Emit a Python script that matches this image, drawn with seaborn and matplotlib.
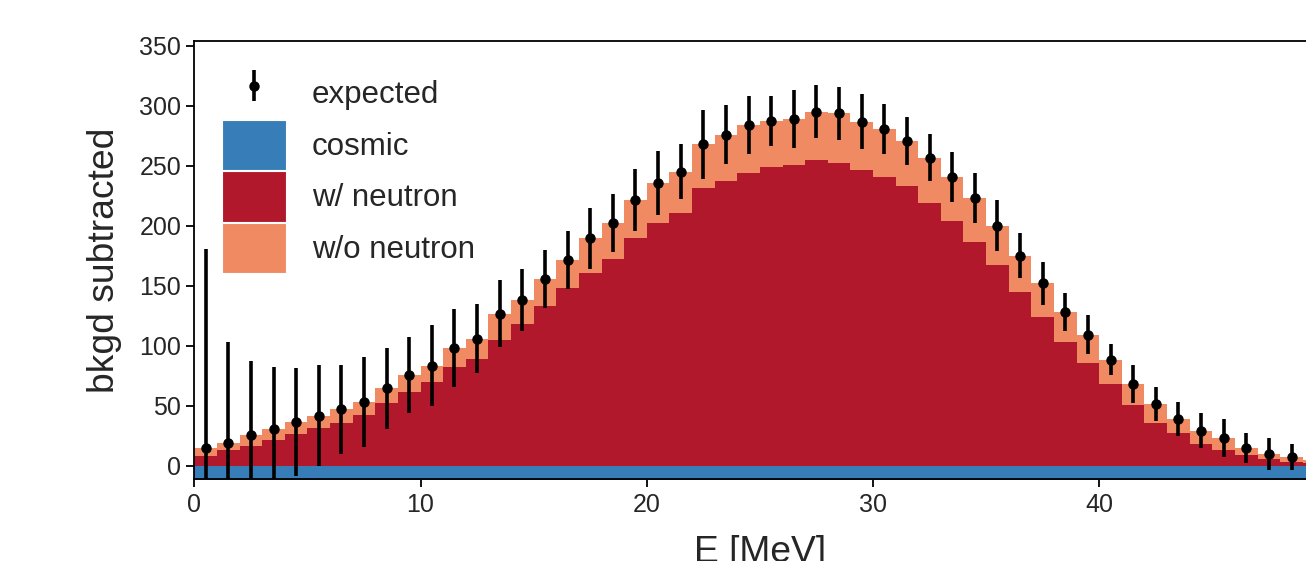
import numpy as np
import pandas as pd
import matplotlib
matplotlib.use("Agg")
import matplotlib.pyplot as plt
import seaborn as sns
from matplotlib.patches import Patch

# Energy bins [MeV], 1 MeV wide
bin_edges = list(range(0, 51))
bin_centers = [e + 0.5 for e in bin_edges[:-1]]

# Stacked components (events per bin)
with_neutron = [8.3, 13.1, 16.7, 21.4, 26.2, 31.2, 35.9, 42.3, 52.0, 61.2,
                69.5, 82.3, 88.7, 104.8, 117.9, 133.4, 148.0, 161.0, 172.1, 189.6,
                202.5, 210.5, 231.4, 237.7, 243.9, 248.6, 250.8, 255.0, 252.2, 246.1,
                240.8, 233.3, 218.8, 204.3, 186.3, 167.4, 144.6, 124.3, 103.4, 85.4,
                68.1, 50.6, 35.9, 27.0, 18.1, 13.1, 8.9, 5.3, 3.3, 2.0]

expected = [14.5, 19.2, 25.6, 30.6, 36.7, 41.7, 47.0, 52.9, 64.5, 75.6,
            83.4, 97.9, 106.0, 126.7, 138.2, 155.7, 171.6, 189.6, 202.2, 221.6,
            235.5, 245.2, 268.0, 275.8, 284.2, 287.5, 288.9, 295.2, 293.9, 286.9,
            280.6, 270.8, 256.9, 240.5, 223.0, 200.2, 175.2, 152.1, 128.4, 109.3,
            88.5, 67.9, 51.5, 38.9, 29.2, 22.9, 15.0, 9.8, 7.0, 5.0]

expected_err = [166, 84, 62, 52, 45, 42, 37, 37.5, 34, 32,
                33.6, 32.5, 29, 27.8, 26, 24.2, 24.4, 25.6, 24, 26,
                26.5, 23, 28.7, 24.5, 24, 21, 24, 22.3, 22, 23,
                21, 20, 19.5, 21, 21, 21.4, 19, 18, 16, 16,
                13, 15.8, 14.4, 14.5, 14.5, 16, 12.5, 13, 10.8, 10]

# cosmic contribution is subtracted (negative)
cosmic = [-15.0] * 50

without_neutron = list(np.array(expected) - np.array(with_neutron))

colors = {"cosmic": "#377eb8", "w/ neutron": "#b2182b", "w/o neutron": "#ef8a62"}

stack_df = pd.DataFrame({
    "E": bin_centers + bin_centers,
    "count": with_neutron + without_neutron,
    "component": ["w/ neutron"] * 50 + ["w/o neutron"] * 50,
})
cosmic_df = pd.DataFrame({"E": bin_centers, "count": cosmic})

sns.set_theme(style="ticks")
plt.rcParams["font.family"] = ["Liberation Sans", "DejaVu Sans"]

fig = plt.figure(figsize=(13.06, 5.61), dpi=100)
ax = fig.add_axes([0.1488, 0.1456, 0.8661, 0.7813])

sns.histplot(data=cosmic_df, x="E", weights="count", bins=bin_edges,
             element="step", color=colors["cosmic"], alpha=1, linewidth=0, ax=ax)
sns.histplot(data=stack_df, x="E", weights="count", hue="component",
             hue_order=["w/o neutron", "w/ neutron"], palette=colors,
             bins=bin_edges, multiple="stack", element="step", alpha=1,
             linewidth=0, legend=False, ax=ax)

ax.errorbar(bin_centers, expected, yerr=expected_err, fmt="o", color="black",
            ms=6.5, elinewidth=2.6, capsize=0, zorder=5)

ax.set_xlim(0, 50)
ax.set_ylim(-11.3, 354)
ax.set_yticks([0, 50, 100, 150, 200, 250, 300, 350])
ax.set_xticks([0, 10, 20, 30, 40])
ax.set_xlabel("E [MeV]", fontsize=26.8, labelpad=13)
ax.set_ylabel("bkgd subtracted", fontsize=26.8, labelpad=12)
ax.tick_params(labelsize=18, length=6, width=1.3, color="black",
               labelcolor=".15")
for s in ax.spines.values():
    s.set_linewidth(1.3)
    s.set_color("black")

eb = ax.errorbar([], [], yerr=[], fmt="o", color="black", ms=6.5, elinewidth=2.6)
handles = [
    eb,
    Patch(facecolor=colors["cosmic"], edgecolor="white", linewidth=0.8),
    Patch(facecolor=colors["w/ neutron"], edgecolor="white", linewidth=0.8),
    Patch(facecolor=colors["w/o neutron"], edgecolor="white", linewidth=0.8),
]
leg = ax.legend(handles, ["expected", "cosmic", "w/ neutron", "w/o neutron"],
                loc="upper left", bbox_to_anchor=(0.0242, 0.938), frameon=False,
                fontsize=22.5, handlelength=2.05, handleheight=2.125,
                labelspacing=0.02, handletextpad=0.83, borderaxespad=0,
                borderpad=0)

fig.savefig("out.png", dpi=100)
